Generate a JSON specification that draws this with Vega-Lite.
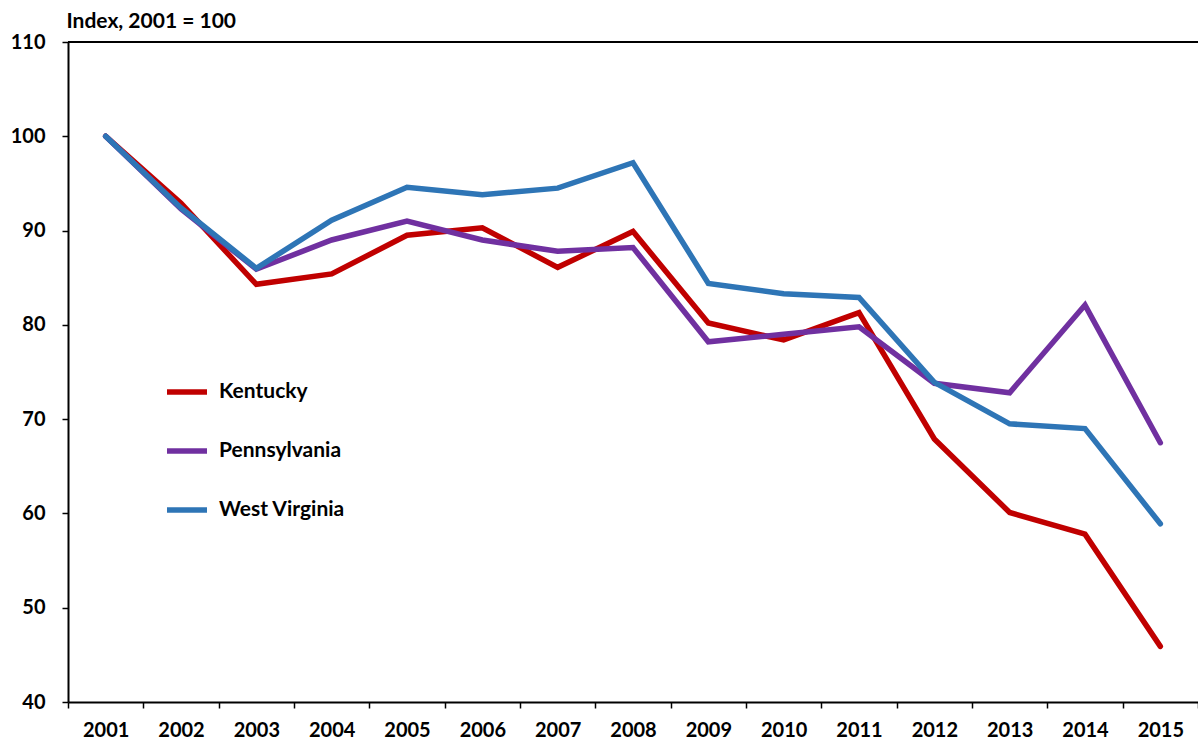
{
  "$schema": "https://vega.github.io/schema/vega-lite/v6.json",
  "width": 1130,
  "height": 660,
  "autosize": {"type": "none"},
  "padding": {"left": 68, "top": 42, "right": 0, "bottom": 42},
  "background": "white",
  "config": {
    "view": {"stroke": null},
    "font": "Lato",
    "axis": {"labelFont": "Lato", "titleFont": "Lato"}
  },
  "data": {
    "values": [
      {"year": "2001", "state": "Kentucky", "value": 100},
      {"year": "2002", "state": "Kentucky", "value": 92.9},
      {"year": "2003", "state": "Kentucky", "value": 84.3},
      {"year": "2004", "state": "Kentucky", "value": 85.4},
      {"year": "2005", "state": "Kentucky", "value": 89.5},
      {"year": "2006", "state": "Kentucky", "value": 90.3},
      {"year": "2007", "state": "Kentucky", "value": 86.1},
      {"year": "2008", "state": "Kentucky", "value": 89.9},
      {"year": "2009", "state": "Kentucky", "value": 80.2},
      {"year": "2010", "state": "Kentucky", "value": 78.4},
      {"year": "2011", "state": "Kentucky", "value": 81.3},
      {"year": "2012", "state": "Kentucky", "value": 67.9},
      {"year": "2013", "state": "Kentucky", "value": 60.1},
      {"year": "2014", "state": "Kentucky", "value": 57.8},
      {"year": "2015", "state": "Kentucky", "value": 45.9},
      {"year": "2001", "state": "Pennsylvania", "value": 100},
      {"year": "2002", "state": "Pennsylvania", "value": 92.3},
      {"year": "2003", "state": "Pennsylvania", "value": 85.9},
      {"year": "2004", "state": "Pennsylvania", "value": 89.0},
      {"year": "2005", "state": "Pennsylvania", "value": 91.0},
      {"year": "2006", "state": "Pennsylvania", "value": 89.0},
      {"year": "2007", "state": "Pennsylvania", "value": 87.8},
      {"year": "2008", "state": "Pennsylvania", "value": 88.2},
      {"year": "2009", "state": "Pennsylvania", "value": 78.2},
      {"year": "2010", "state": "Pennsylvania", "value": 79.0},
      {"year": "2011", "state": "Pennsylvania", "value": 79.8},
      {"year": "2012", "state": "Pennsylvania", "value": 73.8},
      {"year": "2013", "state": "Pennsylvania", "value": 72.8},
      {"year": "2014", "state": "Pennsylvania", "value": 82.1},
      {"year": "2015", "state": "Pennsylvania", "value": 67.5},
      {"year": "2001", "state": "West Virginia", "value": 100},
      {"year": "2002", "state": "West Virginia", "value": 92.4},
      {"year": "2003", "state": "West Virginia", "value": 86.0},
      {"year": "2004", "state": "West Virginia", "value": 91.1},
      {"year": "2005", "state": "West Virginia", "value": 94.6},
      {"year": "2006", "state": "West Virginia", "value": 93.8},
      {"year": "2007", "state": "West Virginia", "value": 94.5},
      {"year": "2008", "state": "West Virginia", "value": 97.2},
      {"year": "2009", "state": "West Virginia", "value": 84.4},
      {"year": "2010", "state": "West Virginia", "value": 83.3},
      {"year": "2011", "state": "West Virginia", "value": 82.9},
      {"year": "2012", "state": "West Virginia", "value": 73.9},
      {"year": "2013", "state": "West Virginia", "value": 69.5},
      {"year": "2014", "state": "West Virginia", "value": 69.0},
      {"year": "2015", "state": "West Virginia", "value": 58.9}
    ]
  },
  "layer": [
    {
      "mark": {"type": "rule", "color": "black", "strokeWidth": 2},
      "encoding": {"y": {"datum": 110, "type": "quantitative", "scale": {"domain": [40, 110]}}}
    },
    {
      "mark": {"type": "line", "strokeWidth": 5.5, "strokeCap": "round", "strokeJoin": "miter"},
      "encoding": {
        "x": {
          "field": "year",
          "type": "ordinal",
          "bandPosition": 0.5,
          "scale": {"type": "band", "paddingInner": 0, "paddingOuter": 0},
          "axis": {
            "title": null,
            "labelAngle": 0,
            "tickBand": "extent",
            "domainColor": "black",
            "domainWidth": 2,
            "tickColor": "black",
            "tickWidth": 1.5,
            "tickSize": 6,
            "labelFontSize": 20,
            "labelFontWeight": "bold",
            "labelColor": "black",
            "labelPadding": 12,
            "grid": false
          }
        },
        "y": {
          "field": "value",
          "type": "quantitative",
          "scale": {"domain": [40, 110], "nice": false},
          "axis": {
            "values": [40, 50, 60, 70, 80, 90, 100, 110],
            "title": "Index, 2001 = 100",
            "titleAngle": 0,
            "titleAlign": "left",
            "titleBaseline": "alphabetic",
            "titleX": -2,
            "titleY": -15,
            "titleFontSize": 21,
            "titleFontWeight": "bold",
            "titleColor": "black",
            "grid": false,
            "domainColor": "black",
            "domainWidth": 2,
            "tickColor": "black",
            "tickWidth": 1.5,
            "tickSize": 6,
            "labelFontSize": 20,
            "labelFontWeight": "bold",
            "labelColor": "black",
            "labelPadding": 17
          }
        },
        "color": {
          "field": "state",
          "type": "nominal",
          "scale": {
            "domain": ["Kentucky", "Pennsylvania", "West Virginia"],
            "range": ["#C00000", "#7030A0", "#2E75B6"]
          },
          "legend": {
            "title": null,
            "orient": "none",
            "legendX": 96,
            "legendY": 327,
            "padding": 0,
            "symbolType": "stroke",
            "symbolSize": 1600,
            "symbolStrokeWidth": 5.5,
            "labelFontSize": 21,
            "labelFontWeight": "bold",
            "labelColor": "black",
            "labelFont": "Lato",
            "labelOffset": 9,
            "rowPadding": 25
          }
        }
      }
    }
  ]
}
